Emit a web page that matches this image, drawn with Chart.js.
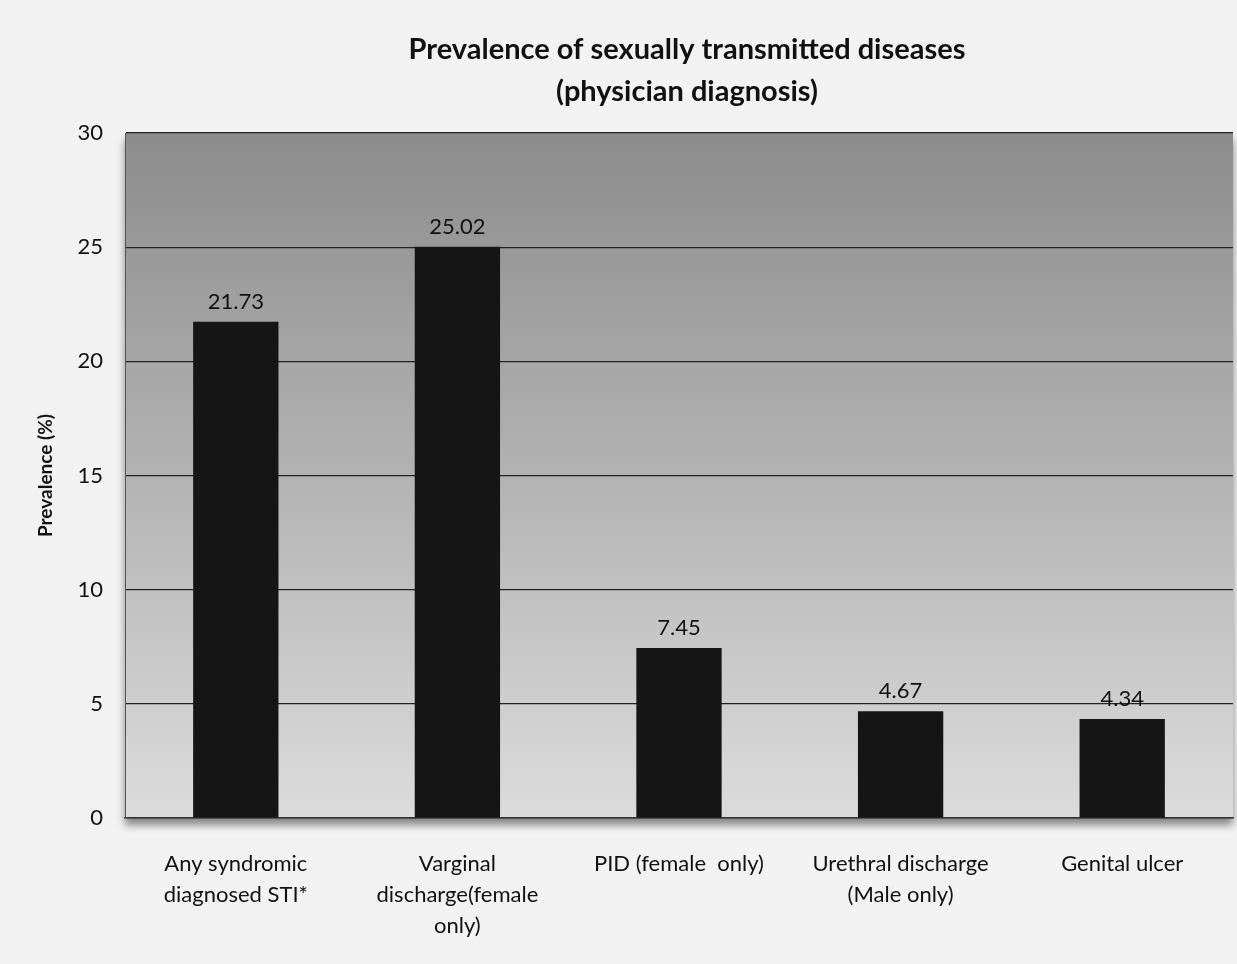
<!DOCTYPE html>
<html>
<head>
<meta charset="utf-8">
<script src="https://cdn.jsdelivr.net/npm/chart.js@4.4.1/dist/chart.umd.min.js"></script>
<style>
    html, body { margin: 0; padding: 0; background: #f2f2f2; }
    #wrap { width: 1237px; height: 964px; position: relative; }
</style>
</head>
<body>
<div id="wrap"><canvas id="stiChart"></canvas></div>
<script>
const categories = [
    ['Any syndromic', 'diagnosed STI*'],
    ['Varginal', 'discharge(female', 'only)'],
    ['PID (female  only)'],
    ['Urethral discharge', '(Male only)'],
    ['Genital ulcer']
];
const prevalence = [21.73, 25.02, 7.45, 4.67, 4.34];
const yTicks = [0, 5, 10, 15, 20, 25, 30];
const titleLines = ['Prevalence of sexually transmitted diseases', '(physician diagnosis)'];

const FONT = 'Lato, "Open Sans", sans-serif';

// shaded plot area, darker at the top like the original
const plotBackground = {
    id: 'plotBackground',
    beforeDraw(chart) {
        const { ctx, chartArea: a } = chart;
        ctx.save();
        const g = ctx.createLinearGradient(0, a.top, 0, a.bottom);
        g.addColorStop(0, '#8c8c8c');
        g.addColorStop(0.5, '#b3b3b3');
        g.addColorStop(1, '#dcdcdc');
        ctx.shadowColor = 'rgba(0,0,0,0.45)';
        ctx.shadowBlur = 8;
        ctx.shadowOffsetY = 7;
        ctx.fillStyle = g;
        ctx.fillRect(a.left, a.top, a.right - a.left, a.bottom - a.top);
        ctx.restore();
    }
};

// title sits a little right of the canvas centre in the original
const offsetTitle = {
    id: 'offsetTitle',
    afterDraw(chart) {
        const { ctx } = chart;
        const cx = (chart.chartArea.left + chart.chartArea.right) / 2 + 8;
        ctx.save();
        ctx.font = 'bold 29px ' + FONT;
        ctx.fillStyle = '#111';
        ctx.textAlign = 'center';
        ctx.textBaseline = 'middle';
        titleLines.forEach((line, i) => ctx.fillText(line, cx, 50 + i * 42));
        ctx.restore();
    }
};

// value labels above each bar
const valueLabels = {
    id: 'valueLabels',
    afterDatasetsDraw(chart) {
        const { ctx } = chart;
        const meta = chart.getDatasetMeta(0);
        ctx.save();
        ctx.font = '22px ' + FONT;
        ctx.fillStyle = '#111';
        ctx.textAlign = 'center';
        ctx.textBaseline = 'bottom';
        meta.data.forEach((bar, i) => {
            ctx.fillText(prevalence[i].toFixed(2), bar.x, bar.y - 9);
        });
        ctx.restore();
    }
};

const ctx = document.getElementById('stiChart').getContext('2d');
new Chart(ctx, {
    type: 'bar',
    data: {
        labels: categories,
        datasets: [{
            label: 'Prevalence (%)',
            data: prevalence,
            backgroundColor: '#151515',
            borderWidth: 0,
            barPercentage: 0.77,
            categoryPercentage: 0.5
        }]
    },
    options: {
        responsive: true,
        maintainAspectRatio: false,
        animation: false,
        layout: { padding: { left: 0, right: 4, top: 133, bottom: 0 } },
        plugins: {
            legend: { display: false },
            tooltip: { enabled: false },
            title: { display: false }
        },
        scales: {
            x: {
                grid: { display: false },
                border: { display: true, color: '#333', width: 1.5 },
                ticks: {
                    color: '#111',
                    font: { family: FONT, size: 22, lineHeight: 1.42 },
                    maxRotation: 0,
                    autoSkip: false,
                    padding: 22
                },
                afterFit(scale) { scale.height = 146; }
            },
            y: {
                min: 0,
                max: 30,
                afterBuildTicks(scale) { scale.ticks = yTicks.map(v => ({ value: v })); },
                grid: { color: '#222', lineWidth: 1.2, drawTicks: false },
                border: { display: true, color: '#555', width: 1 },
                ticks: {
                    color: '#111',
                    font: { family: FONT, size: 22 },
                    padding: 22
                },
                title: {
                    display: true,
                    text: 'Prevalence (%)',
                    color: '#111',
                    font: { family: FONT, size: 19, weight: 'bold' },
                    padding: { top: 34, bottom: 0 }
                },
                afterFit(scale) { scale.width = 125; }
            }
        }
    },
    plugins: [plotBackground, valueLabels, offsetTitle]
});
</script>
</body>
</html>
